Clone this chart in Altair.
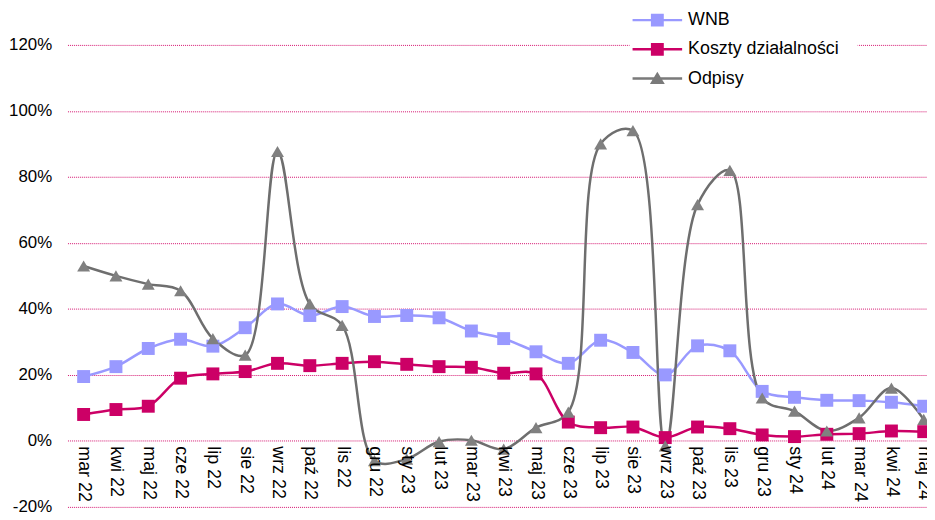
import altair as alt
import pandas as pd

months = ["mar 22", "kwi 22", "maj 22", "cze 22", "lip 22", "sie 22", "wrz 22", "paź 22", "lis 22",
          "gru 22", "sty 23", "lut 23", "mar 23", "kwi 23", "maj 23", "cze 23", "lip 23", "sie 23",
          "wrz 23", "paź 23", "lis 23", "gru 23", "sty 24", "lut 24", "mar 24", "kwi 24", "maj 24"]
wnb = [19.5, 22.5, 28.0, 30.8, 28.7, 34.3, 41.5, 38.0, 40.7, 37.7, 38.0, 37.3, 33.3, 31.0, 27.0,
       23.5, 30.5, 26.8, 20.0, 28.8, 27.3, 15.0, 13.2, 12.3, 12.2, 11.7, 10.5]
koszty = [8.0, 9.5, 10.5, 19.0, 20.3, 21.0, 23.5, 22.8, 23.5, 24.0, 23.2, 22.5, 22.3, 20.5, 20.3,
          5.7, 4.0, 4.2, 1.0, 4.2, 3.7, 1.8, 1.3, 2.0, 2.2, 3.0, 2.8]
odpisy = [53.0, 50.0, 47.5, 45.5, 31.0, 26.0, 87.7, 41.5, 35.0, -6.0, -5.5, -0.2, 0.2, -2.5, 4.0,
          8.7, 90.0, 94.0, -1.5, 71.6, 82.0, 13.0, 9.0, 3.0, 7.0, 16.0, 6.5]

series = ["WNB", "Koszty działalności", "Odpisy"]
y_ticks = [-20, 0, 20, 40, 60, 80, 100, 120]

line_colors = ["#9999FF", "#CC0066", "#6E6E6E"]
marker_colors = ["#9999FF", "#CC0066", "#808080"]
legend_colors = ["#9999FF", "#CC0066", "#7A7A7A"]
marker_shapes = ["square", "square", "triangle-up"]
legend_shapes = [
    "M-2.5,-0.125H2.5V0.125H-2.5Z M-0.65,-0.65H0.65V0.65H-0.65Z",
    "M-2.5,-0.125H2.5V0.125H-2.5Z M-0.65,-0.65H0.65V0.65H-0.65Z",
    "M-2.5,-0.125H2.5V0.125H-2.5Z M0,-0.7L0.75,0.55H-0.75Z",
]

rows = []
for name, vals in zip(series, [wnb, koszty, odpisy]):
    for m, v in zip(months, vals):
        rows.append({"month": m, "value": v, "series": name})
df = pd.DataFrame(rows)

FONT = "Liberation Sans"
PLOT_W = 880
PLOT_H = 466

x_enc = alt.X(
    "month:N", sort=months,
    scale=alt.Scale(type="point", padding=0.5, range=[0, PLOT_W]),
    axis=alt.Axis(title=None, labelAngle=90, labelFontSize=18, labelFont=FONT, labelColor="black",
                  domain=False, ticks=False, grid=False, offset=-66.6, labelPadding=5,
                  labelOverlap=False, zindex=1),
)
y_enc = alt.Y(
    "value:Q",
    scale=alt.Scale(domain=[-20, 120], nice=False, zero=False),
    axis=alt.Axis(title=None, values=y_ticks, labelExpr="datum.value + '%'", labelFontSize=17,
                  labelFont=FONT, labelColor="black", domain=False, ticks=False, labelPadding=16,
                  gridColor="#D4136F", gridDash=[1, 1], gridWidth=1),
)

lines = alt.Chart(df).mark_line(interpolate="catmull-rom", strokeWidth=2.5).encode(
    x=x_enc, y=y_enc,
    color=alt.Color("series:N", scale=alt.Scale(domain=series, range=line_colors), legend=None),
)

points = alt.Chart(df).mark_point(filled=True, size=170, opacity=1).encode(
    x=x_enc, y=y_enc,
    color=alt.Color("series:N", scale=alt.Scale(domain=series, range=marker_colors), legend=None),
    shape=alt.Shape("series:N", scale=alt.Scale(domain=series, range=marker_shapes), legend=None),
)

leg = dict(orient="none", legendX=567, legendY=-53, title=None, labelFont=FONT, labelFontSize=18,
           labelColor="black", symbolSize=400, symbolStrokeWidth=0, labelOffset=21, rowPadding=10.5,
           padding=18, fillColor="white", symbolOpacity=1)

legend_layer = alt.Chart(df).transform_filter("false").mark_point(filled=True, opacity=1).encode(
    x=x_enc, y=y_enc,
    color=alt.Color("series:N", scale=alt.Scale(domain=series, range=legend_colors),
                    legend=alt.Legend(**leg)),
    shape=alt.Shape("series:N", scale=alt.Scale(domain=series, range=legend_shapes),
                    legend=alt.Legend(**leg)),
)

chart = alt.layer(lines, points, legend_layer).resolve_scale(
    color="independent", shape="independent"
).properties(
    width=867, height=PLOT_H,
    autosize=alt.AutoSizeParams(type="none"),
    padding={"left": 60, "top": 35, "right": 0, "bottom": 10},
).configure_view(stroke=None)

chart.save("out.html", embed_options={"renderer": "svg", "actions": False})
